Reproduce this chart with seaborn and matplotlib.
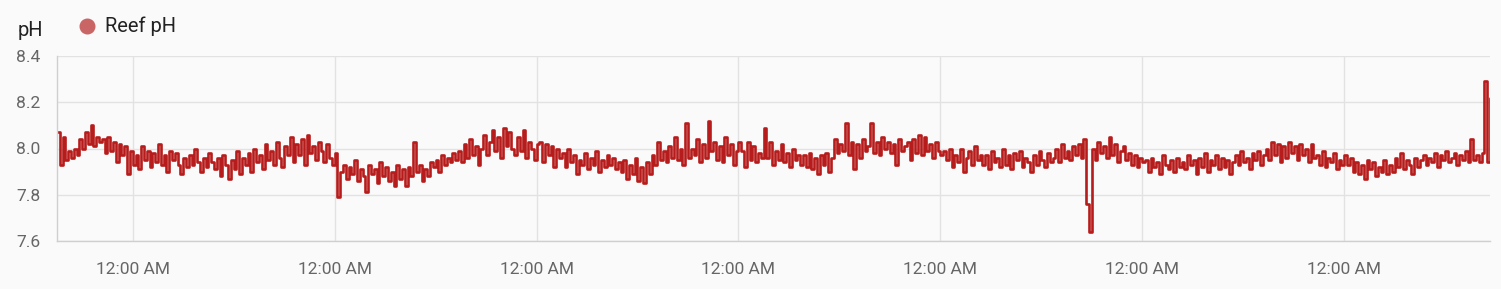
import matplotlib
matplotlib.use("Agg")
import matplotlib.pyplot as plt
import matplotlib.dates as mdates
from matplotlib.lines import Line2D
import pandas as pd
import seaborn as sns

# pH readings every 20 minutes
day0 = [8.07, 7.93, 8.05, 7.95,
        7.99, 7.96, 8.00, 7.97,
        8.04, 8.00, 8.07, 8.02, 8.10, 8.01, 8.05, 8.03,
        8.04, 7.98, 8.05, 7.99, 8.03, 7.94, 8.02,
        7.97, 8.01, 7.89, 7.99, 7.93]
day1 = [7.97, 7.91, 8.01, 7.95, 7.99, 7.92, 7.98, 7.94, 8.02, 7.93, 7.97, 7.90, 7.99, 7.95, 7.98, 7.93,
        7.89, 7.96, 7.92, 7.97, 7.93, 8.00, 7.94, 7.90, 7.96, 7.92, 7.98, 7.94,
        7.91, 7.96, 7.88, 7.97, 7.93, 7.87, 7.95, 7.91, 7.99, 7.89, 7.96,
        7.93, 7.98, 7.90, 8.00, 7.94, 7.97, 7.91, 8.02, 7.95, 7.99, 7.93, 8.03, 7.96, 7.92, 8.01, 7.97,
        8.05, 7.94, 8.02, 7.97, 8.04, 7.93, 8.06, 7.98, 8.01, 7.95, 8.03, 7.99, 7.94, 8.02, 7.96, 7.93, 7.98]
day2 = [7.79, 7.90,
        7.93, 7.87, 7.92, 7.89, 7.95, 7.86, 7.91, 7.88, 7.81, 7.93, 7.89, 7.91, 7.85, 7.94, 7.88, 7.92, 7.86, 7.90, 7.84, 7.93,
        7.87, 7.91, 7.84, 7.92, 7.88, 8.03, 7.90, 7.93, 7.86, 7.91, 7.88, 7.94,
        7.92, 7.95, 7.90, 7.97, 7.93, 7.96, 7.94, 7.98, 7.95,
        7.99, 7.94, 8.02, 7.96, 8.04, 7.97, 8.01, 7.93, 8.00,
        8.06, 7.97, 8.03, 8.08, 7.99, 8.05, 7.96, 8.09, 8.01, 8.07, 8.00,
        7.97, 8.05, 7.99, 8.08, 7.96, 8.03, 8.00, 7.95, 8.02]
day3 = [8.03, 7.94, 8.02, 7.97, 8.01, 7.92, 8.00, 7.96,
        7.98, 7.92, 8.00, 7.94, 7.97, 7.89, 7.95, 7.93, 7.98, 7.91, 7.96, 7.93, 7.99, 7.90, 7.95, 7.92, 7.97, 7.93, 7.96, 7.91, 7.94,
        7.90, 7.95, 7.87, 7.93, 7.89, 7.96, 7.86, 7.92, 7.85, 7.94, 7.89,
        7.97, 7.93, 8.03, 7.95, 7.99, 7.94, 8.01, 7.96, 8.05, 7.95, 8.00, 7.93, 8.11, 7.96,
        8.00, 7.97, 8.04, 7.94, 8.02, 7.96, 8.12, 7.99, 8.03, 7.95, 8.01,
        7.94, 8.05, 7.97, 8.02, 7.93, 7.99, 8.03]
day4 = [7.99, 7.92, 8.03, 7.95, 8.01, 7.94, 7.98, 7.96,
        8.09, 7.96, 8.03, 7.93, 7.99, 7.95, 8.02, 7.94, 7.98, 7.92, 8.00, 7.95, 7.97, 7.93,
        7.97, 7.92, 7.98, 7.91, 7.96, 7.89, 7.97, 7.93, 7.98, 7.90, 7.96,
        8.04, 7.98, 8.02, 7.99, 8.11, 7.97, 8.03, 7.91, 8.02, 7.96, 8.04, 7.99, 8.01, 8.11,
        7.98, 8.03, 7.97, 8.05, 8.00, 8.03, 7.98, 8.02, 7.93, 8.04, 7.99, 8.01,
        8.03, 7.95, 8.04, 7.98, 8.06, 7.97, 8.05, 7.99, 8.02, 7.96, 8.03, 7.99, 7.97]
day5 = [7.99, 7.95, 8.00, 7.92, 7.97, 7.94, 8.00, 7.90, 7.96, 7.99, 7.93, 8.01, 7.95, 7.97,
        7.93, 7.97, 7.91, 7.99, 7.94, 7.96, 7.92, 8.00, 7.93, 7.97, 7.91, 7.98, 7.95, 7.99, 7.92, 7.96,
        7.94, 7.90, 7.97, 7.93, 7.99, 7.95, 7.92, 7.98, 7.94,
        7.96, 8.00, 7.94, 8.02, 7.96, 7.99, 7.95, 8.01, 7.97,
        8.02, 7.96, 8.04, 7.76, 7.64,
        8.00, 7.95, 8.03, 7.98, 8.01, 7.96, 8.05, 7.97, 8.02, 7.94, 7.99, 8.01, 7.95, 7.98,
        7.93, 7.97, 7.92, 7.96, 7.94]
day6 = [7.95, 7.90, 7.96, 7.92, 7.94, 7.89, 7.97, 7.93, 7.91, 7.95, 7.90, 7.96, 7.92, 7.94,
        7.91, 7.97, 7.93, 7.95, 7.89, 7.96, 7.92, 7.98, 7.90, 7.95, 7.93, 7.97, 7.91, 7.96, 7.92, 7.95, 7.89, 7.94,
        7.97, 7.93, 7.99, 7.94, 7.96, 7.91, 7.98, 7.95, 7.99, 7.93, 7.97,
        8.00, 7.95, 8.03, 7.97, 8.02, 7.94, 8.01, 7.96, 8.03, 7.98, 8.01, 7.95, 8.02, 7.97, 8.00, 7.94, 8.02, 7.96,
        7.97, 7.93, 7.99, 7.92, 7.96, 7.94, 7.98, 7.91, 7.95, 7.93, 7.97]
day7 = [7.93, 7.96, 7.90, 7.94, 7.89, 7.93, 7.87, 7.95, 7.91, 7.94, 7.88, 7.92, 7.90, 7.95, 7.89, 7.93,
        7.90, 7.96, 7.92, 7.98, 7.91, 7.95, 7.93, 7.89, 7.96, 7.92, 7.95,
        7.97, 7.93, 7.96, 7.94, 7.98, 7.92, 7.97, 7.95, 7.99, 7.94, 7.96, 7.98, 7.93, 7.97, 7.95, 7.99, 7.94,
        8.04, 7.95, 7.97, 7.94, 7.98, 8.29, 7.94, 8.22]

ph_values = day0 + day1 + day2 + day3 + day4 + day5 + day6 + day7
times = pd.date_range("2024-03-01 15:00", periods=len(ph_values), freq="20min")
df = pd.DataFrame({"time": times, "pH": ph_values})

y_ticks = [7.6, 7.8, 8.0, 8.2, 8.4]
series_name = "Reef pH"
axis_title = "pH"

W, H = 1501, 289
bg = "#fafafa"
line_color = "#b71c1c"
grid_color = "#e2e2e2"

sns.set_theme(style="white")
plt.rcParams["font.family"] = ["Roboto", "DejaVu Sans"]

fig = plt.figure(figsize=(W / 100, H / 100), dpi=100, facecolor=bg)
ax = fig.add_axes([57 / W, 1 - 241 / H, (1490 - 57) / W, (241 - 56) / H])
ax.set_facecolor(bg)

sns.lineplot(data=df, x="time", y="pH", ax=ax, color=line_color, linewidth=1.9,
             drawstyle="steps-post", estimator=None, legend=False)

ax.set_xlim(times[0], times[-1])
ax.set_ylim(7.6, 8.4)
ax.set_yticks(y_ticks)
ax.set_yticklabels([f"{v:.1f}" for v in y_ticks])
ax.xaxis.set_major_locator(mdates.DayLocator())
ax.xaxis.set_major_formatter(mdates.DateFormatter("%I:%M %p"))

ax.grid(True, color=grid_color, linewidth=1)
ax.set_axisbelow(True)
ax.set_xlabel("")
ax.set_ylabel("")

for s in ["top", "right"]:
    ax.spines[s].set_visible(False)
for s in ["left", "bottom"]:
    ax.spines[s].set_color("#cfcfcf")
    ax.spines[s].set_linewidth(1)

ax.tick_params(axis="y", length=10, width=1, color=grid_color, pad=2,
               labelsize=12.5, labelcolor="#666666")
ax.tick_params(axis="x", length=6, width=1, color=grid_color, pad=9,
               labelsize=12.5, labelcolor="#666666")

fig.text(18 / W, 1 - 31 / H, axis_title, fontsize=14.5, color="#222222",
         va="center", ha="left")

# legend: dot + series name
fig.add_artist(Line2D([87 / W], [1 - 26 / H], transform=fig.transFigure, marker="o",
                      linestyle="", markersize=10.5, markerfacecolor="#c96565",
                      markeredgecolor="#c96565"))
fig.text(105 / W, 1 - 26 / H, series_name, fontsize=14.5, color="#222222",
         va="center", ha="left")

fig.savefig("out.png", dpi=100, facecolor=bg)
